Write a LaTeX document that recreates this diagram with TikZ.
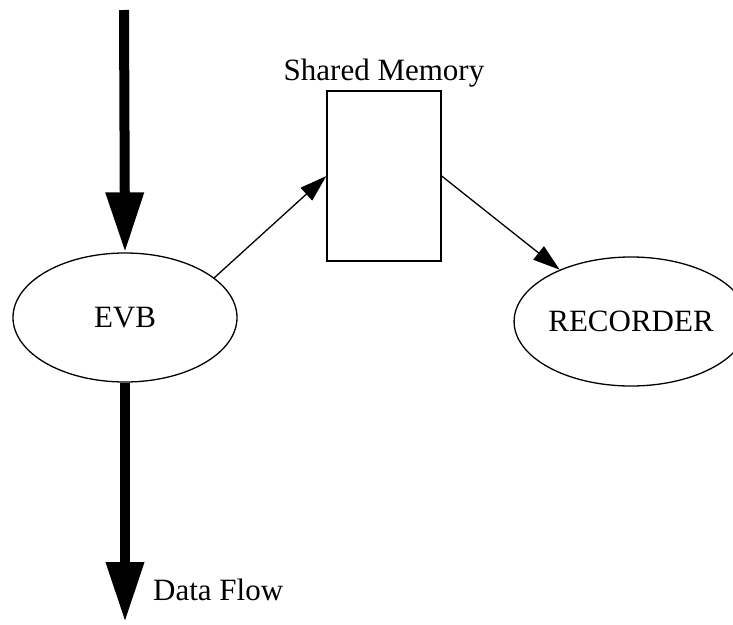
\documentclass[tikz,border=0pt]{standalone}
\usepackage{fontspec}
\setmainfont{Liberation Serif}
\usetikzlibrary{shapes.geometric, arrows.meta}
\tikzset{
  procnode/.style={draw, ellipse, line width=1.3pt, minimum width=224pt, minimum height=129pt, inner sep=0pt},
  memnode/.style={draw, rectangle, line width=1.3pt, minimum width=114pt, minimum height=170pt, inner sep=0pt},
  flowarrow/.style={line width=10pt, -{Triangle[length=60pt, width=36pt]}},
  linkarrow/.style={line width=1.3pt, -{Triangle[length=27pt, width=17pt]}}
}

\begin{document}
\begin{tikzpicture}[x=1pt, y=-1pt, font=\fontsize{31}{36}\selectfont]
\useasboundingbox (0,0) rectangle (733,624);
% nodes
\node[procnode] (evb) at (125,317.5) {EVB};
\node[procnode] (rec) at (631,321.5) {RECORDER};
\node[memnode, label={above:Shared Memory}] (mem) at (384,176) {};
\coordinate (flowin) at (124,10);
\coordinate (flowout) at (125,622);
\node[anchor=base west, inner sep=0pt] (flowlabel) at (153,600) {Data Flow};
% data flow
\draw[flowarrow] (flowin) -- (evb.north);
\draw[flowarrow] (evb.south) -- (flowout);
% shared memory links
\draw[linkarrow] (evb.24) -- (mem.west);
\draw[linkarrow] (mem.east) -- (rec.144);
\end{tikzpicture}
\end{document}
